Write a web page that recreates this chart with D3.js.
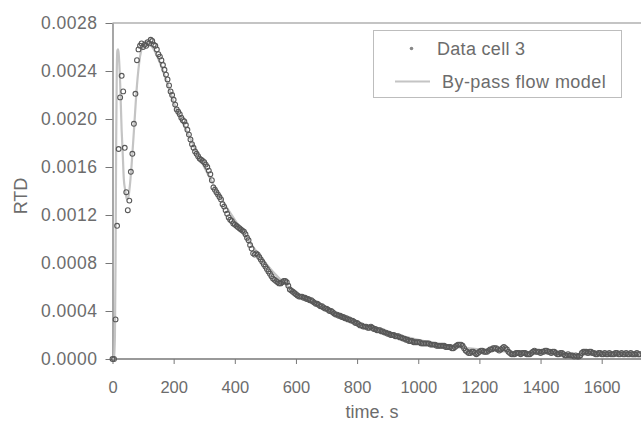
<!DOCTYPE html>
<html>
<head>
<meta charset="utf-8">
<script src="https://cdn.jsdelivr.net/npm/d3@7"></script>
<style>
  body { margin: 0; background: #fff; }
  svg { display: block; }
  text { font-family: "Liberation Sans", Arial, Helvetica, sans-serif; fill: #6c6c6c; }
</style>
</head>
<body>
<svg id="chart" width="641" height="424"></svg>
<script>
// Tracer response, cell 3: one reading every 5 s starting at t = 0.
const sampleInterval = 5; // s
// Measured RTD, in units of 1e-6 1/s
const cellRtd = [
  0, 0, 330, 1110, 1750, 2180, 2360, 2230, 1760, 1390, 1240, 1320, 1560, 1710, 1960, 2210, 2490, 2580, 2610, 2630,
  2600, 2620, 2610, 2640, 2630, 2660, 2650, 2620, 2610, 2580, 2540, 2520, 2490, 2450, 2410, 2370, 2330, 2280, 2230, 2200,
  2160, 2120, 2080, 2060, 2040, 2010, 1990, 1980, 1950, 1910, 1870, 1830, 1790, 1760, 1730, 1710, 1690, 1670, 1660, 1650,
  1640, 1620, 1600, 1570, 1540, 1490, 1430, 1410, 1390, 1370, 1350, 1330, 1290, 1270, 1240, 1210, 1180, 1160, 1150, 1130,
  1120, 1110, 1100, 1090, 1080, 1070, 1060, 1040, 1010, 990, 950, 920, 880, 870, 880, 870, 850, 830, 810, 790,
  770, 750, 730, 710, 690, 670, 660, 650, 640, 630, 630, 640, 650, 650, 640, 610, 580, 570, 560, 550,
  540, 530, 520, 520, 520, 510, 510, 500, 500, 490, 490, 480, 470, 460, 460, 450, 440, 440, 430, 420,
  420, 410, 400, 400, 390, 380, 370, 370, 360, 360, 350, 350, 340, 340, 330, 330, 320, 320, 310, 300,
  300, 290, 280, 280, 270, 270, 270, 260, 260, 270, 260, 250, 250, 240, 240, 240, 230, 230, 220, 220,
  210, 210, 200, 200, 200, 190, 190, 190, 180, 180, 170, 170, 160, 160, 150, 150, 150, 140, 140, 140,
  140, 140, 130, 130, 130, 130, 130, 130, 120, 120, 120, 120, 110, 110, 110, 110, 110, 110, 100, 100,
  100, 100, 90, 90, 100, 110, 120, 120, 120, 110, 90, 70, 60, 50, 50, 60, 60, 50, 40, 50,
  60, 70, 70, 60, 60, 60, 70, 80, 80, 90, 90, 90, 80, 70, 80, 90, 100, 90, 80, 60,
  50, 40, 40, 40, 50, 50, 50, 40, 50, 50, 50, 40, 40, 40, 50, 60, 70, 60, 60, 60,
  50, 60, 60, 70, 70, 60, 60, 50, 60, 60, 50, 40, 40, 50, 50, 40, 30, 30, 40, 30,
  30, 30, 20, 30, 20, 20, 30, 50, 60, 60, 60, 50, 60, 60, 50, 50, 40, 40, 50, 50,
  40, 40, 50, 40, 40, 50, 40, 40, 40, 50, 50, 40, 40, 50, 40, 40, 50, 40, 40, 50,
  40, 40, 40, 50, 40, 40
];

// By-pass flow model curve
const modelTime = [0, 5, 8, 10, 12, 14, 16, 18, 20, 25, 30, 33, 37, 42, 47, 52, 57, 62, 70, 80, 90, 100, 110, 120, 135, 150, 175, 200,
  250, 300, 350, 400, 450, 500, 550, 600, 650, 700, 800, 900, 1000, 1100, 1200, 1300, 1400, 1500, 1600, 1750];
const modelRtd = [0, 20, 200, 800, 1800, 2400, 2570, 2580, 2550, 2300, 1900, 1740, 1500, 1400, 1330, 1350, 1450, 1600, 1900, 2280, 2520, 2620, 2650, 2630, 2580, 2500, 2330, 2140,
  1860, 1600, 1360, 1160, 970, 800, 660, 550, 470, 410, 300, 220, 160, 110, 80, 60, 50, 40, 30, 20];

const xTicks = [0, 200, 400, 600, 800, 1000, 1200, 1400, 1600];
const yTicks = [0, 0.0004, 0.0008, 0.0012, 0.0016, 0.0020, 0.0024, 0.0028];
const seriesNames = ["Data cell 3", "By-pass flow model"];
const xTitle = "time. s";
const yTitle = "RTD";

const W = 641, H = 424;
const svg = d3.select("#chart");

const x = d3.scaleLinear().domain([0, 1600]).range([112.5, 601.7]);
const y = d3.scaleLinear().domain([0, 0.0028]).range([359, 23]);

const cellPoints = cellRtd.map((v, i) => ({ t: i * sampleInterval, v: v * 1e-6 }));
const modelPoints = modelTime.map((t, i) => ({ t, v: modelRtd[i] * 1e-6 }));

const axisColor = "#777";
const font = '"Liberation Sans", Arial, sans-serif';

// Frame: top border and bottom axis run to the right edge
svg.append("line")
  .attr("x1", x(0)).attr("x2", W).attr("y1", y(0.0028)).attr("y2", y(0.0028))
  .attr("stroke", "#8a8a8a").attr("stroke-width", 1.2);

// Y axis
const yAxis = svg.append("g")
  .attr("transform", `translate(${x(0)},0)`)
  .call(d3.axisLeft(y).tickValues(yTicks).tickFormat(d3.format(".4f"))
    .tickSize(7).tickSizeOuter(0).tickPadding(8));
yAxis.select(".domain").attr("stroke", axisColor).attr("stroke-width", 1.3);
yAxis.selectAll(".tick line").attr("stroke", axisColor);
yAxis.selectAll(".tick text").attr("font-size", 17.5).attr("fill", "#6c6c6c")
  .attr("letter-spacing", 0.5).style("font-family", font);

// X axis
const xAxis = svg.append("g")
  .attr("transform", `translate(0,${y(0)})`)
  .call(d3.axisBottom(x).tickValues(xTicks).tickFormat(d3.format("d"))
    .tickSize(5).tickSizeOuter(0).tickPadding(17));
xAxis.select(".domain").remove();
xAxis.append("line").attr("x1", x(0)).attr("x2", W).attr("y1", 0).attr("y2", 0)
  .attr("stroke", axisColor).attr("stroke-width", 1.3);
xAxis.selectAll(".tick line").attr("stroke", axisColor);
xAxis.selectAll(".tick text").attr("font-size", 16.5).attr("fill", "#6c6c6c")
  .style("font-family", font);

// Axis titles
svg.append("text")
  .attr("transform", `translate(27,196) rotate(-90)`)
  .attr("text-anchor", "middle")
  .attr("font-size", 18)
  .text(yTitle);
svg.append("text")
  .attr("x", 372).attr("y", 418)
  .attr("text-anchor", "middle")
  .attr("font-size", 18)
  .text(xTitle);

// Model curve
const line = d3.line()
  .x(d => x(d.t))
  .y(d => y(d.v))
  .curve(d3.curveMonotoneX);
svg.append("path")
  .datum(modelPoints)
  .attr("d", line)
  .attr("fill", "none")
  .attr("stroke", "#c4c4c4")
  .attr("stroke-width", 2.2);

// Measured points
svg.append("g")
  .selectAll("circle")
  .data(cellPoints)
  .join("circle")
  .attr("cx", d => x(d.t))
  .attr("cy", d => y(d.v))
  .attr("r", 2.4)
  .attr("fill", "none")
  .attr("stroke", "#585858")
  .attr("stroke-width", 1.1);

// Legend
const legend = svg.append("g");
legend.append("rect")
  .attr("x", 373.5).attr("y", 30.5).attr("width", 248).attr("height", 67)
  .attr("fill", "#fff").attr("stroke", "#bdbdbd").attr("stroke-width", 1);
legend.append("circle")
  .attr("cx", 411.5).attr("cy", 48.5).attr("r", 1.8)
  .attr("fill", "#888").attr("stroke", "none");
legend.append("text")
  .attr("x", 437).attr("y", 54.5)
  .attr("font-size", 18)
  .attr("letter-spacing", 0.3)
  .text(seriesNames[0]);
legend.append("line")
  .attr("x1", 395).attr("x2", 430).attr("y1", 81.5).attr("y2", 81.5)
  .attr("stroke", "#c4c4c4").attr("stroke-width", 2);
legend.append("text")
  .attr("x", 442).attr("y", 87.5)
  .attr("font-size", 18)
  .attr("letter-spacing", 0.45)
  .text(seriesNames[1]);
</script>
</body>
</html>
